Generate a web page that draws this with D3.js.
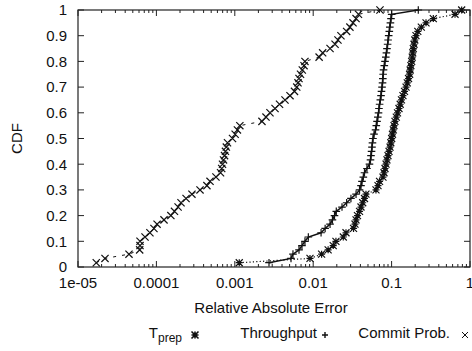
<!DOCTYPE html>
<html>
<head>
<meta charset="utf-8">
<script src="https://cdn.jsdelivr.net/npm/d3@7"></script>
<style>
  body { margin: 0; background: #fff; }
  text { font-family: "Liberation Sans", Arial, sans-serif; fill: #111; }
</style>
</head>
<body>
<div id="chart"></div>
<script>
// sorted relative absolute errors, 60 samples each (CDF y = rank / n)
var tprepErr = [1.14e-3, 9.10e-3, 1.28e-2, 1.55e-2, 1.80e-2, 1.95e-2, 2.42e-2, 2.62e-2, 3.27e-2, 3.41e-2,
  3.52e-2, 3.67e-2, 3.90e-2, 4.07e-2, 4.28e-2, 4.51e-2, 4.71e-2, 6.32e-2, 6.71e-2, 7.02e-2,
  7.76e-2, 8.00e-2, 8.24e-2, 8.49e-2, 8.73e-2, 9.00e-2, 9.27e-2, 9.55e-2, 9.77e-2, 0.1002,
  0.1026, 0.1052, 0.1074, 0.1104, 0.1148, 0.1189, 0.1242, 0.1288, 0.1336, 0.1396,
  0.1462, 0.1528, 0.1585, 0.1644, 0.1698, 0.1726, 0.1762, 0.1803, 0.1832, 0.1862,
  0.1892, 0.1932, 0.1977, 0.2046, 0.2158, 0.2393, 0.2748, 0.3404, 0.6442, 0.783];

var throughputErr = [2.73e-3, 5.21e-3, 5.52e-3, 6.59e-3, 7.19e-3, 7.85e-3, 8.67e-3, 1.26e-2, 1.42e-2, 1.64e-2,
  1.76e-2, 1.87e-2, 1.97e-2, 2.33e-2, 2.67e-2, 3.03e-2, 3.52e-2, 3.90e-2, 4.07e-2, 4.19e-2,
  4.36e-2, 4.51e-2, 4.85e-2, 5.22e-2, 5.38e-2, 5.46e-2, 5.55e-2, 5.62e-2, 5.70e-2, 5.79e-2,
  5.97e-2, 6.24e-2, 6.38e-2, 6.52e-2, 6.67e-2, 6.81e-2, 6.90e-2, 7.03e-2, 7.18e-2, 7.33e-2,
  7.43e-2, 7.55e-2, 7.66e-2, 7.73e-2, 7.80e-2, 7.89e-2, 8.07e-2, 8.24e-2, 8.43e-2, 8.59e-2,
  8.73e-2, 8.89e-2, 9.02e-2, 9.18e-2, 9.35e-2, 9.48e-2, 9.66e-2, 9.82e-2, 0.1002, 0.219];

var commitErr = [1.71e-5, 2.21e-5, 4.47e-5, 6.12e-5, 6.18e-5, 6.18e-5, 7.16e-5, 8.27e-5, 9.31e-5, 1.02e-4,
  1.25e-4, 1.53e-4, 1.70e-4, 1.89e-4, 2.06e-4, 2.39e-4, 2.84e-4, 3.60e-4, 4.41e-4, 4.83e-4,
  5.75e-4, 6.58e-4, 6.81e-4, 6.97e-4, 7.18e-4, 7.40e-4, 7.60e-4, 7.80e-4, 8.07e-4, 9.35e-4,
  1.01e-3, 1.08e-3, 1.16e-3, 2.22e-3, 2.50e-3, 2.81e-3, 3.26e-3, 3.72e-3, 4.37e-3, 5.06e-3,
  5.77e-3, 6.17e-3, 6.40e-3, 6.59e-3, 6.89e-3, 7.26e-3, 7.64e-3, 7.85e-3, 1.19e-2, 1.32e-2,
  1.64e-2, 1.90e-2, 2.07e-2, 2.26e-2, 2.67e-2, 2.94e-2, 3.22e-2, 3.52e-2, 3.78e-2, 7.11e-2];

var xTicks = [1e-5, 1e-4, 1e-3, 1e-2, 1e-1, 1];
var xTickLabels = ["1e-05", "0.0001", "0.001", "0.01", "0.1", "1"];
var yTicks = [0, 0.1, 0.2, 0.3, 0.4, 0.5, 0.6, 0.7, 0.8, 0.9, 1];

var margin = {top: 10, right: 2, bottom: 84, left: 78};
var width = 472 - margin.left - margin.right;
var height = 351 - margin.top - margin.bottom;

var svg = d3.select("#chart").append("svg")
    .attr("width", 472)
    .attr("height", 351);
var g = svg.append("g")
    .attr("transform", `translate(${margin.left},${margin.top})`);

var x = d3.scaleLog().domain([1e-5, 1]).range([0, width]);
var y = d3.scaleLinear().domain([0, 1]).range([height, 0]);

// minor ticks 2..9 per decade
var minor = [];
for (var e = -5; e < 0; e++) {
    for (var k = 2; k < 10; k++) minor.push(k * Math.pow(10, e));
}

var ticks = g.append("g").attr("stroke", "#222").attr("stroke-width", 1);
minor.forEach(function(v) {
    ticks.append("line").attr("x1", x(v)).attr("x2", x(v)).attr("y1", height).attr("y2", height - 3);
    ticks.append("line").attr("x1", x(v)).attr("x2", x(v)).attr("y1", 0).attr("y2", 3);
});
xTicks.forEach(function(v) {
    ticks.append("line").attr("x1", x(v)).attr("x2", x(v)).attr("y1", height).attr("y2", height - 6);
    ticks.append("line").attr("x1", x(v)).attr("x2", x(v)).attr("y1", 0).attr("y2", 6);
});
yTicks.forEach(function(v) {
    ticks.append("line").attr("x1", 0).attr("x2", 6).attr("y1", y(v)).attr("y2", y(v));
    ticks.append("line").attr("x1", width).attr("x2", width - 6).attr("y1", y(v)).attr("y2", y(v));
});

g.selectAll(".xl").data(xTicks).enter().append("text")
    .attr("x", d => x(d))
    .attr("y", height + 21)
    .attr("text-anchor", "middle")
    .attr("font-size", "15px")
    .text((d, i) => xTickLabels[i]);

g.selectAll(".yl").data(yTicks).enter().append("text")
    .attr("x", -11)
    .attr("y", d => y(d) + 5.3)
    .attr("text-anchor", "end")
    .attr("font-size", "15px")
    .text(d => d3.format("~g")(d));

g.append("rect")
    .attr("width", width).attr("height", height)
    .attr("fill", "none").attr("stroke", "#222").attr("stroke-width", 1.2);

g.append("text")
    .attr("x", width / 2 - 3)
    .attr("y", height + 46)
    .attr("text-anchor", "middle")
    .attr("font-size", "15px")
    .text("Relative Absolute Error");

g.append("text")
    .attr("transform", "rotate(-90)")
    .attr("x", -height / 2)
    .attr("y", -56)
    .attr("text-anchor", "middle")
    .attr("font-size", "15px")
    .text("CDF");

function marker(type, r) {
    var p = "M" + (-r) + ",0H" + r + "M0," + (-r) + "V" + r;
    var c = "M" + (-r) + "," + (-r) + "L" + r + "," + r + "M" + (-r) + "," + r + "L" + r + "," + (-r);
    if (type === "plus") return p;
    if (type === "cross") return c;
    return p + c;
}

var series = [
    {name: "tprep", err: tprepErr, dash: "1.2,2.2", sym: "star", r: 3.5, lw: 1.2},
    {name: "throughput", err: throughputErr, dash: null, sym: "plus", r: 3.8, lw: 1.5},
    {name: "commit", err: commitErr, dash: "3,6", sym: "cross", r: 3.6, lw: 1}
];

var line = d3.line().x(d => x(d[0])).y(d => y(d[1]));

series.forEach(function(s) {
    var n = s.err.length;
    var pts = s.err.map((v, i) => [v, (i + 1) / n]);
    g.append("path")
        .datum(pts)
        .attr("d", line)
        .attr("fill", "none")
        .attr("stroke", "#111")
        .attr("stroke-width", s.lw)
        .attr("stroke-dasharray", s.dash);
    g.append("g").selectAll("path").data(pts).enter().append("path")
        .attr("transform", d => `translate(${x(d[0])},${y(d[1])})`)
        .attr("d", marker(s.sym, s.r))
        .attr("fill", "none")
        .attr("stroke", "#111")
        .attr("stroke-width", 1.2);
});

// legend
var leg = svg.append("g").attr("font-size", "15px");
var lt = leg.append("text").attr("x", 182).attr("y", 338).attr("text-anchor", "end");
lt.append("tspan").text("T");
lt.append("tspan").attr("dy", 4).attr("font-size", "12px").text("prep");
leg.append("path").attr("transform", "translate(195,335)").attr("d", marker("star", 3.5))
    .attr("stroke", "#111").attr("stroke-width", 1.6).attr("fill", "none");

leg.append("text").attr("x", 317).attr("y", 338).attr("text-anchor", "end").text("Throughput");
leg.append("path").attr("transform", "translate(325,335)").attr("d", marker("plus", 3))
    .attr("stroke", "#111").attr("stroke-width", 1.4).attr("fill", "none");

leg.append("text").attr("x", 450).attr("y", 338).attr("text-anchor", "end").text("Commit Prob.");
leg.append("path").attr("transform", "translate(465,335)").attr("d", marker("cross", 3))
    .attr("stroke", "#111").attr("stroke-width", 1).attr("fill", "none");
</script>
</body>
</html>
